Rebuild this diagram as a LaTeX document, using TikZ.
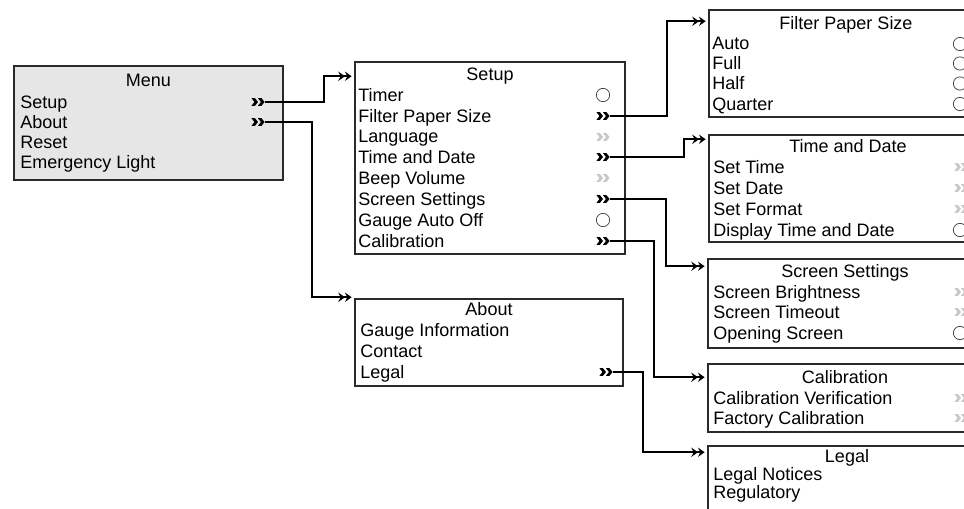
\documentclass[tikz,border=0pt]{standalone}
\usepackage{fontspec}
\setmainfont{Liberation Sans}
\usetikzlibrary{arrows.meta,fit,calc}
\definecolor{menufill}{HTML}{E6E6E6}
\definecolor{dimmk}{HTML}{C8C8C8}
\definecolor{boxline}{HTML}{2A2A2A}
\begin{document}
\begin{tikzpicture}[x=0.75pt,y=-0.75pt,
  box/.style={draw=boxline,line width=1.1pt,inner sep=0pt,fit={#1}},
  txt/.style={font=\fontsize{13.5}{16}\selectfont,inner sep=0pt,anchor=base west},
  ttl/.style={font=\fontsize{13.5}{16}\selectfont,inner sep=0pt,anchor=base},
  mk/.style={minimum width=9.75pt,minimum height=6pt,inner sep=0pt,
    path picture={\fill[#1,line join=round,shift={(path picture bounding box.center)}]
      (-6.5,-3.8)--(-3,-3.8)--(0,0)--(-3,3.8)--(-6.5,3.8)--(-3.6,0)--cycle
      (0,-3.8)--(3.5,-3.8)--(6.5,0)--(3.5,3.8)--(0,3.8)--(2.9,0)--cycle;}},
  mk/.default=black,
  radio/.style={circle,draw=black!75,line width=0.55pt,minimum size=10pt,inner sep=0pt},
  conn/.style={line width=1.2pt,
    -{Stealth[length=5pt,width=7pt,inset=1.8pt]Stealth[length=5pt,width=7pt,inset=1.8pt]},
    shorten >=2pt}
]
\useasboundingbox (0,0) rectangle (964,509);
\clip (0,0) rectangle (964,509);

% boxes
\node[box={(14,66)(283,180)},fill=menufill] (menu) {};
\node[box={(355,62)(625,254)}] (setup) {};
\node[box={(355,299)(623,386)}] (about) {};
\node[box={(709,10)(982,117)}] (fps) {};
\node[box={(709,135)(982,242)}] (tad) {};
\node[box={(708,259)(982,348)}] (ss) {};
\node[box={(708,364)(982,432)}] (cal) {};
\node[box={(708,446)(982,530)}] (legal) {};

% Menu
\node[ttl] (menuT) at (148.5,86.5) {Menu};
\node[txt] (menu1) at (20,108.5) {Setup};
\node[txt] (menu2) at (20,128.5) {About};
\node[txt] (menu3) at (20,148.5) {Reset};
\node[txt] (menu4) at (20,168.5) {Emergency Light};
\node[mk] (mMSetup) at (258,102) {};
\node[mk] (mMAbout) at (258,122) {};

% Setup
\node[ttl] (setupT) at (490,80.5) {Setup};
\node[txt] (s1) at (358,101.5) {Timer};
\node[txt] (s2) at (358,122.5) {Filter Paper Size};
\node[txt] (s3) at (358,143) {Language};
\node[txt] (s4) at (358,163.5) {Time and Date};
\node[txt] (s5) at (358,184.5) {Beep Volume};
\node[txt] (s6) at (358,205.5) {Screen Settings};
\node[txt] (s7) at (358,226.5) {Gauge Auto Off};
\node[txt] (s8) at (358,247.5) {Calibration};
\node[radio] (rTimer) at (603,95) {};
\node[mk] (mFPS) at (603,116) {};
\node[mk=dimmk] (mLang) at (603,137) {};
\node[mk] (mTaD) at (603,157) {};
\node[mk=dimmk] (mBeep) at (603,178) {};
\node[mk] (mSS) at (603,199) {};
\node[radio] (rGauge) at (603,220) {};
\node[mk] (mCal) at (603,241) {};

% About
\node[ttl] (aboutT) at (489,315.5) {About};
\node[txt] (a1) at (360,336.5) {Gauge Information};
\node[txt] (a2) at (360,357.5) {Contact};
\node[txt] (a3) at (360,378.5) {Legal};
\node[mk] (mLegal) at (606,372) {};

% Filter Paper Size
\node[ttl] (fpsT) at (846,29.5) {Filter Paper Size};
\node[txt] (f1) at (712,50) {Auto};
\node[txt] (f2) at (712,70) {Full};
\node[txt] (f3) at (712,90) {Half};
\node[txt] (f4) at (712,110.5) {Quarter};
\node[radio] (rf1) at (960,44) {};
\node[radio] (rf2) at (960,63.5) {};
\node[radio] (rf3) at (960,83.5) {};
\node[radio] (rf4) at (960,104) {};

% Time and Date
\node[ttl] (tadT) at (848,152.5) {Time and Date};
\node[txt] (t1) at (713,173.5) {Set Time};
\node[txt] (t2) at (713,194.5) {Set Date};
\node[txt] (t3) at (713,215.5) {Set Format};
\node[txt] (t4) at (713,236.5) {Display Time and Date};
\node[mk=dimmk] (mt1) at (961,167) {};
\node[mk=dimmk] (mt2) at (961,188) {};
\node[mk=dimmk] (mt3) at (961,209) {};
\node[radio] (rt4) at (960,230) {};

% Screen Settings
\node[ttl] (ssT) at (845,277.5) {Screen Settings};
\node[txt] (ss1) at (713,298.5) {Screen Brightness};
\node[txt] (ss2) at (713,318.5) {Screen Timeout};
\node[txt] (ss3) at (713,339.5) {Opening Screen};
\node[mk=dimmk] (mss1) at (961,292) {};
\node[mk=dimmk] (mss2) at (961,312) {};
\node[radio] (rss3) at (960,333) {};

% Calibration
\node[ttl] (calT) at (845,383.5) {Calibration};
\node[txt] (c1) at (713,404.5) {Calibration Verification};
\node[txt] (c2) at (713,424.5) {Factory Calibration};
\node[mk=dimmk] (mc1) at (961,398) {};
\node[mk=dimmk] (mc2) at (961,418) {};

% Legal
\node[ttl] (legalT) at (847,462.5) {Legal};
\node[txt] (l1) at (713,480.5) {Legal Notices};
\node[txt] (l2) at (713,498.5) {Regulatory};

% entry points
\coordinate (inSetup) at ($(setup.north west)+(0,15)$);
\coordinate (inAbout) at ($(about.north west)+(0,-1)$);
\coordinate (inFPS) at ($(fps.north west)+(0,12)$);
\coordinate (inTaD) at ($(tad.north west)+(0,5)$);
\coordinate (inSS) at ($(ss.north west)+(0,8)$);
\coordinate (inCal) at ($(cal.north west)+(0,14)$);
\coordinate (inLegal) at ($(legal.north west)+(0,7)$);

% connectors
\draw[conn] (mMSetup.east) -| ($(inSetup)+(-30,0)$) -- (inSetup);
\draw[conn] (mMAbout.east) -| ($(inAbout)+(-42,0)$) -- (inAbout);
\draw[conn] (mFPS.east) -| ($(inFPS)+(-41,0)$) -- (inFPS);
\draw[conn] (mTaD.east) -| ($(inTaD)+(-24,0)$) -- (inTaD);
\draw[conn] (mSS.east) -| ($(inSS)+(-41,0)$) -- (inSS);
\draw[conn] (mCal.east) -| ($(inCal)+(-53,0)$) -- (inCal);
\draw[conn] (mLegal.east) -| ($(inLegal)+(-64,0)$) -- (inLegal);
\end{tikzpicture}
\end{document}
